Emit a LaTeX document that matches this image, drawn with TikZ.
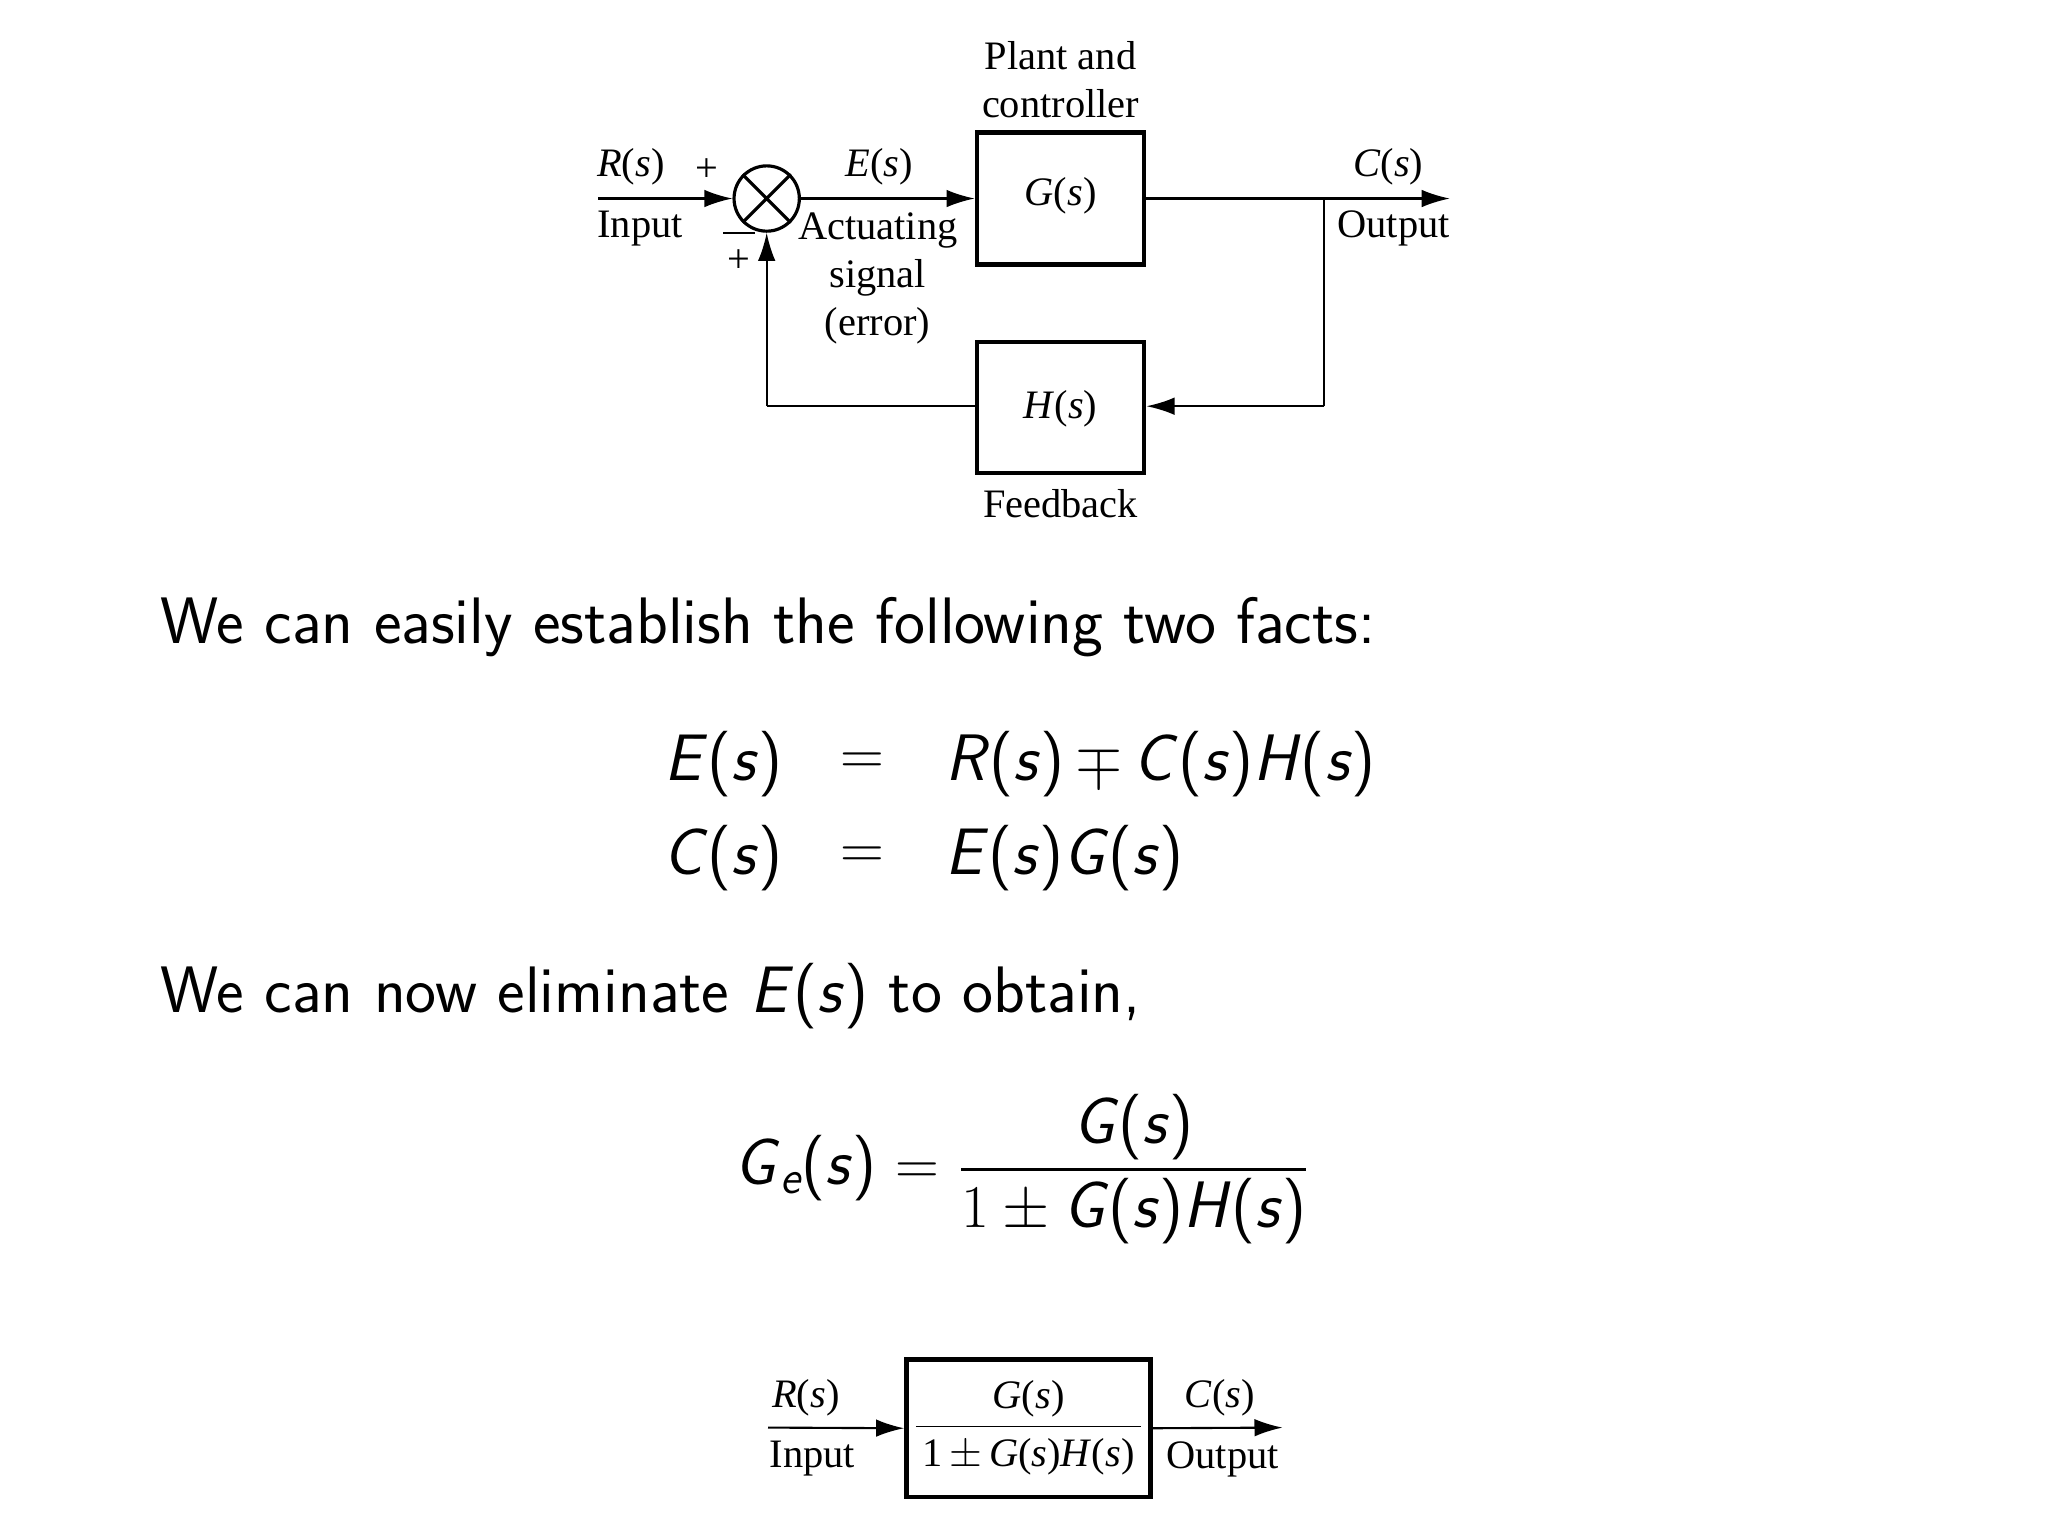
\documentclass[tikz,border=0pt]{standalone}
\usepackage{amsmath}
\usepackage{fontspec}
\newfontfamily\tms{Liberation Serif}
\usetikzlibrary{arrows.meta}
\newcommand\mv[1]{\textsf{\itshape #1}}
\newcommand\sv[1]{\mv{#1}\textsf{(}\mv{s}\textsf{)}}
\newcommand\tv[1]{\textit{#1}(\textit{s})}
\begin{document}
\begin{tikzpicture}[x=0.01306cm,y=-0.01306cm,
  blk/.style={draw,line width=1.3pt,inner sep=0pt},
  lab/.style={font=\tms\fontsize{11.5}{13.7}\selectfont,inner sep=0pt,align=center},
  big/.style={font=\sffamily\fontsize{18.7}{22}\selectfont,inner sep=0pt,anchor=west},
  sig/.style={line width=0.6pt,-{Latex[length=8pt,width=5pt]}},
  ln/.style={line width=0.6pt}]
\useasboundingbox[fill=white] (0,0) rectangle (1568,1176);
% top diagram
\node[blk,minimum width=128*0.01306cm,minimum height=101*0.01306cm] (G) at (812,152) {};
\node[lab] (Gt) at (812,150) {\tv{G}};
\node[blk,minimum width=128*0.01306cm,minimum height=100*0.01306cm] (H) at (812,312) {};
\node[lab] (Ht) at (812,313) {\tv{H}};
\node[draw,circle,line width=0.9pt,minimum size=50*0.01306cm,inner sep=0pt] (S) at (587,152) {};
\draw[line width=0.9pt] (S.north east) -- (S.south west) (S.north west) -- (S.south east);
\coordinate (in) at (458,152);
\coordinate (out) at (1110,152);
\coordinate (br) at (1014,152);
\coordinate (br2) at (1014,311);
\coordinate (fb) at (587,311);
\draw[sig] (in) -- (S.west);
\draw[sig] (S.east) -- (G.west);
\draw[sig] (G.east) -- (out);
\draw[ln] (br) -- (br2);
\draw[sig] (br2) -- (H.east |- br2);
\draw[ln] (H.west |- fb) -- (fb);
\draw[sig] (fb) -- (S.south);
\node[lab] (R) at (483,128) {\tv{R}};
\node[lab] (p1) at (541,130) {+};
\node[lab] (In) at (490,175) {Input};
\node[lab] (E) at (673,128) {\tv{E}};
\node[lab] (A) at (672,213) {Actuating\\signal\\(error)};
\node[lab] (P) at (812,61) {Plant and\\controller};
\node[lab] (C) at (1063,128) {\tv{C}};
\node[lab] (O) at (1067,175) {Output};
\node[lab] (m) at (566,190) {$\overline{\phantom{+}}$};
\node[lab] (p2) at (566,200) {+};
\node[lab] (F) at (812,386) {Feedback};
% text
\node[big] (t1) at (122,480) {We can easily establish the following two facts:};
\node[big,anchor=east] (e1l) at (600,585) {\sv{E}};
\node[big,anchor=center] (e1e) at (660,585) {$=$};
\node[big] (e1r) at (723,585) {\sv{R}\,$\mp$\,\sv{C}\sv{H}};
\node[big,anchor=east] (e2l) at (600,657) {\sv{C}};
\node[big,anchor=center] (e2e) at (660,657) {$=$};
\node[big] (e2r) at (723,657) {\sv{E}\sv{G}};
\node[big] (t2) at (122,763) {We can now eliminate \sv{E} to obtain,};
\node[big,anchor=center] (ge) at (783,895) {\mv{G}$_{\mv{e}}$\textsf{(}\mv{s}\textsf{)}\;$=$\;$\dfrac{\text{\sv{G}}}{1\pm\text{\sv{G}\sv{H}}}$};
% bottom block
\node[blk,minimum width=187*0.01306cm,minimum height=105*0.01306cm] (T) at (787.5,1093.5) {};
\node[lab] (Tt) at (787.5,1093) {$\dfrac{\text{\tv{G}}}{\text{\,1\,$\pm$\,\tv{G}\tv{H}\,}}$};
\coordinate (in2) at (588,1093);
\coordinate (out2) at (982,1093);
\draw[sig] (in2) -- (T.west);
\draw[sig] (T.east) -- (out2);
\node[lab] (R2) at (617,1070) {\tv{R}};
\node[lab] (I2) at (622,1117) {Input};
\node[lab] (C2) at (934,1070) {\tv{C}};
\node[lab] (O2) at (936,1117) {Output};
\end{tikzpicture}
\end{document}
